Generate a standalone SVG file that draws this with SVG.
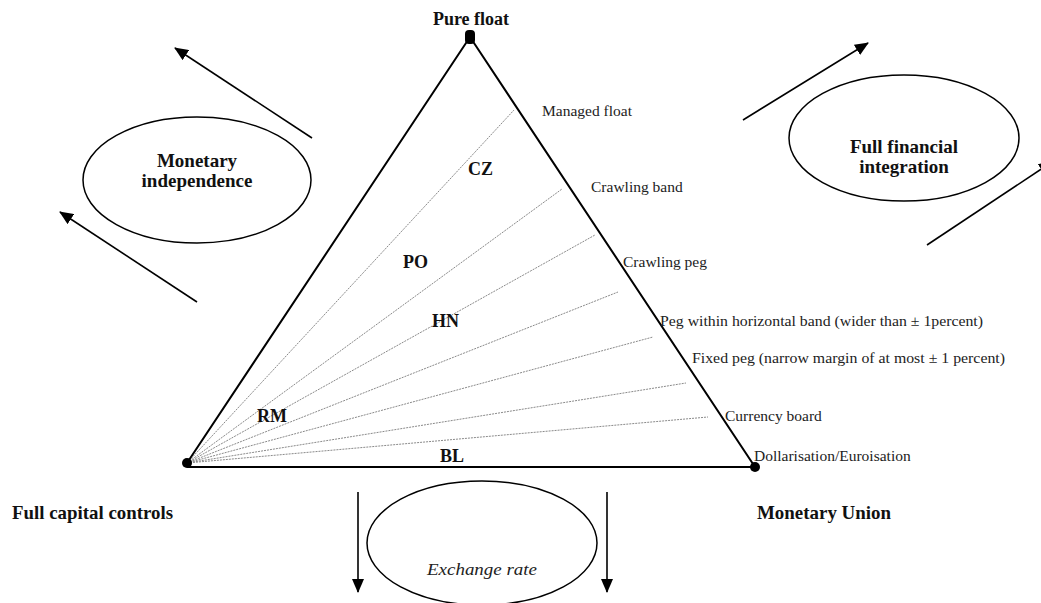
<svg xmlns="http://www.w3.org/2000/svg" width="1041" height="603" viewBox="0 0 1041 603">
<style>
.lbl{font-family:"Liberation Serif","Times New Roman",serif;font-size:15.5px;fill:#222}
.b{font-family:"Liberation Serif","Times New Roman",serif;font-weight:bold;fill:#111}
.edge{stroke:#000;stroke-width:2;fill:none}
.fan{stroke:#8a8a8a;stroke-width:1;stroke-dasharray:2 1;fill:none}
.ell{stroke:#000;stroke-width:1.5;fill:#fff}
.arr{stroke:#000;stroke-width:1.6;fill:none;marker-end:url(#ah)}
</style>
<defs>
<marker id="ah" markerUnits="userSpaceOnUse" markerWidth="14" markerHeight="12" refX="13" refY="6" orient="auto">
<path d="M0,0 L14,6 L0,12 Z" fill="#000"/>
</marker>
</defs>
<rect width="1041" height="603" fill="#fff"/>
<g id="connectors">
<line class="arr" x1="312" y1="138" x2="175" y2="48"/>
<line class="arr" x1="197" y1="302" x2="60" y2="212"/>
<line class="arr" x1="743" y1="120" x2="868" y2="43"/>
<line class="arr" x1="927" y1="245" x2="1052" y2="162"/>
<line class="arr" x1="358" y1="492" x2="358" y2="592"/>
<line class="arr" x1="607" y1="492" x2="607" y2="592"/>
</g>
<g id="fan">
<line class="fan" x1="187" y1="463" x2="514" y2="110"/>
<line class="fan" x1="187" y1="463" x2="562" y2="189"/>
<line class="fan" x1="187" y1="463" x2="595" y2="235"/>
<line class="fan" x1="187" y1="463" x2="618" y2="292"/>
<line class="fan" x1="187" y1="463" x2="653" y2="337"/>
<line class="fan" x1="187" y1="463" x2="686" y2="383"/>
<line class="fan" x1="187" y1="463" x2="708" y2="417"/>
</g>
<g id="triangle">
<path class="edge" d="M187,463 L470,37 L755,467 L187,467"/>
<rect x="465" y="30" width="10" height="14" rx="4" fill="#000"/>
<circle cx="187" cy="463" r="5" fill="#000"/>
<circle cx="755" cy="467" r="5" fill="#000"/>
</g>
<g id="pure-float"><text class="b" x="471" y="25" font-size="18" text-anchor="middle">Pure float</text></g>
<g id="regime-labels">
<text class="lbl" x="542" y="116">Managed float</text>
<text class="lbl" x="591" y="192">Crawling band</text>
<text class="lbl" x="623" y="267">Crawling peg</text>
<text class="lbl" x="660" y="326" textLength="323" lengthAdjust="spacingAndGlyphs">Peg within horizontal band (wider than ± 1percent)</text>
<text class="lbl" x="692" y="363" textLength="313" lengthAdjust="spacingAndGlyphs">Fixed peg (narrow margin of at most ± 1 percent)</text>
<text class="lbl" x="725" y="421">Currency board</text>
<text class="lbl" x="754" y="461">Dollarisation/Euroisation</text>
</g>
<g id="countries">
<text class="b" x="468" y="175" font-size="18">CZ</text>
<text class="b" x="403" y="268" font-size="18">PO</text>
<text class="b" x="432" y="327" font-size="18">HN</text>
<text class="b" x="257" y="422" font-size="18">RM</text>
<text class="b" x="440" y="462" font-size="18">BL</text>
</g>
<g id="monetary-independence">
<ellipse class="ell" cx="197" cy="180" rx="114" ry="63"/>
<text class="b" x="197" y="167" font-size="19" text-anchor="middle">Monetary</text>
<text class="b" x="197" y="187" font-size="19" text-anchor="middle">independence</text>
</g>
<g id="full-financial-integration">
<ellipse class="ell" cx="904" cy="138" rx="115" ry="63"/>
<text class="b" x="904" y="153" font-size="19" text-anchor="middle">Full financial</text>
<text class="b" x="904" y="173" font-size="19" text-anchor="middle">integration</text>
</g>
<g id="exchange-rate">
<ellipse class="ell" cx="482" cy="543" rx="115" ry="62"/>
<text x="482" y="575" font-family="Liberation Serif, Times New Roman, serif" font-style="italic" font-size="17" fill="#222" text-anchor="middle" textLength="110" lengthAdjust="spacingAndGlyphs">Exchange rate</text>
</g>
<g id="full-capital-controls"><text class="b" x="12" y="519" font-size="19" textLength="161" lengthAdjust="spacingAndGlyphs">Full capital controls</text></g>
<g id="monetary-union"><text class="b" x="757" y="519" font-size="19" textLength="134" lengthAdjust="spacingAndGlyphs">Monetary Union</text></g>
</svg>
